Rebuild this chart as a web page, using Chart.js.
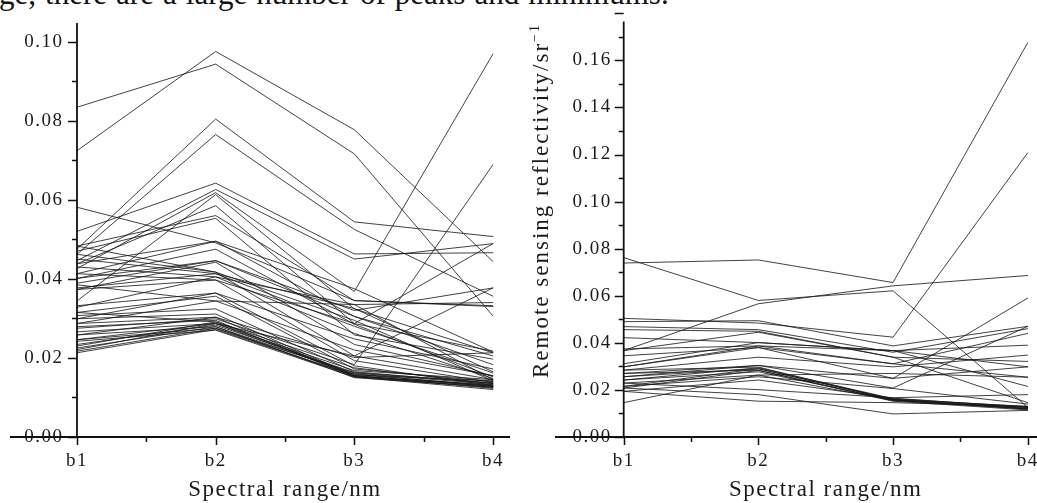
<!DOCTYPE html>
<html><head><meta charset="utf-8">
<script src="https://cdn.jsdelivr.net/npm/chart.js@4.4.0/dist/chart.umd.min.js"></script>
<style>
html,body{margin:0;padding:0;background:#fff;width:1037px;height:503px;overflow:hidden;position:relative}
#cap{position:absolute;left:-1px;top:-22px;font-family:"Liberation Serif";font-size:31px;line-height:31px;white-space:nowrap;color:#111;word-spacing:1.3px}
#c1{position:absolute;left:0;top:0}
#c2{position:absolute;left:520px;top:0}
</style></head><body>
<div id="cap">ge, there are a large number of peaks and minimums.</div>
<canvas id="c1" width="518" height="503"></canvas>
<canvas id="c2" width="540" height="503"></canvas>
<script>
// ---------- data ----------
const bands = ['b1', 'b2', 'b3', 'b4'];
const xTitle = 'Spectral range/nm';
const yTitleMain = 'Remote sensing reflectivity/sr';
const yTitleSup = '\u22121';
const leftYTicks = [0, 0.02, 0.04, 0.06, 0.08, 0.10];
const rightYTicks = [0, 0.02, 0.04, 0.06, 0.08, 0.10, 0.12, 0.14, 0.16];

// left panel: values at b1..b4
const leftUpper = [
  [0.0724, 0.0975, 0.0777, 0.0444],
  [0.0834, 0.0943, 0.0716, 0.0306],
  [0.0475, 0.0804, 0.0544, 0.0507],
  [0.0462, 0.0765, 0.0525, 0.0356]
];
const leftMiddle = [
  [0.0520, 0.0642, 0.0463, 0.0466],
  [0.0446, 0.0626, 0.0450, 0.0489],
  [0.0426, 0.0618, 0.0368, 0.0969],
  [0.0344, 0.0613, 0.0324, 0.0213],
  [0.0438, 0.0585, 0.0287, 0.0217],
  [0.0483, 0.0560, 0.0345, 0.0330],
  [0.0470, 0.0553, 0.0258, 0.0197],
  [0.0581, 0.0491, 0.0345, 0.0332],
  [0.0413, 0.0495, 0.0305, 0.0183],
  [0.0401, 0.0475, 0.0285, 0.0152],
  [0.0389, 0.0446, 0.0320, 0.0377],
  [0.0373, 0.0442, 0.0234, 0.0155],
  [0.0462, 0.0417, 0.0205, 0.0145],
  [0.0450, 0.0413, 0.0325, 0.0165],
  [0.0430, 0.0405, 0.0335, 0.0145],
  [0.0413, 0.0397, 0.0193, 0.0138],
  [0.0385, 0.0344, 0.0335, 0.0340],
  [0.0328, 0.0405, 0.0262, 0.0148],
  [0.0377, 0.0413, 0.0280, 0.0162],
  [0.0401, 0.0446, 0.0305, 0.0205],
  [0.0483, 0.0417, 0.0295, 0.0142],
  [0.0438, 0.0495, 0.0375, 0.0215],
  [0.0373, 0.0397, 0.0287, 0.0489]
];
const leftLower = [
  [0.0332, 0.0364, 0.0180, 0.0130],
  [0.0315, 0.0356, 0.0172, 0.0140],
  [0.0307, 0.0324, 0.0165, 0.0135],
  [0.0299, 0.0311, 0.0155, 0.0128],
  [0.0287, 0.0303, 0.0153, 0.0125],
  [0.0279, 0.0295, 0.0152, 0.0132],
  [0.0266, 0.0287, 0.0157, 0.0142],
  [0.0258, 0.0279, 0.0160, 0.0128],
  [0.0246, 0.0275, 0.0155, 0.0123],
  [0.0242, 0.0270, 0.0152, 0.0120],
  [0.0234, 0.0283, 0.0163, 0.0137],
  [0.0230, 0.0291, 0.0158, 0.0130],
  [0.0225, 0.0279, 0.0150, 0.0126],
  [0.0221, 0.0287, 0.0168, 0.0145],
  [0.0217, 0.0275, 0.0162, 0.0133],
  [0.0213, 0.0272, 0.0155, 0.0128],
  [0.0275, 0.0299, 0.0183, 0.0689],
  [0.0299, 0.0364, 0.0248, 0.0172],
  [0.0287, 0.0344, 0.0220, 0.0155],
  [0.0315, 0.0291, 0.0175, 0.0135],
  [0.0258, 0.0303, 0.0201, 0.0213],
  [0.0246, 0.0287, 0.0205, 0.0377]
];

// right panel: values at b1..b4
const rightUpper = [
  [0.0762, 0.0580, 0.0621, 0.0126],
  [0.0739, 0.0752, 0.0656, 0.1675],
  [0.0367, 0.0566, 0.0642, 0.0686],
  [0.0504, 0.0484, 0.0424, 0.1207]
];
const rightMiddle = [
  [0.0490, 0.0494, 0.0387, 0.0470],
  [0.0469, 0.0456, 0.0360, 0.0460],
  [0.0456, 0.0449, 0.0339, 0.0321],
  [0.0422, 0.0401, 0.0367, 0.0298],
  [0.0374, 0.0387, 0.0367, 0.0215],
  [0.0345, 0.0380, 0.0311, 0.0440],
  [0.0311, 0.0401, 0.0367, 0.0390],
  [0.0298, 0.0380, 0.0249, 0.0590],
  [0.0284, 0.0339, 0.0298, 0.0348],
  [0.0270, 0.0304, 0.0208, 0.0470],
  [0.0367, 0.0445, 0.0339, 0.0146],
  [0.0298, 0.0387, 0.0311, 0.0254],
  [0.0256, 0.0304, 0.0249, 0.0298]
];
const rightLower = [
  [0.0256, 0.0290, 0.0160, 0.0130],
  [0.0242, 0.0277, 0.0158, 0.0125],
  [0.0229, 0.0263, 0.0155, 0.0120],
  [0.0215, 0.0290, 0.0160, 0.0118],
  [0.0208, 0.0283, 0.0152, 0.0115],
  [0.0194, 0.0242, 0.0165, 0.0125],
  [0.0146, 0.0263, 0.0270, 0.0254],
  [0.0208, 0.0180, 0.0098, 0.0113],
  [0.0194, 0.0152, 0.0146, 0.0130],
  [0.0229, 0.0201, 0.0167, 0.0180],
  [0.0270, 0.0284, 0.0155, 0.0122],
  [0.0284, 0.0297, 0.0158, 0.0119],
  [0.0242, 0.0294, 0.0163, 0.0128],
  [0.0215, 0.0256, 0.0206, 0.0140]
];

// ---------- rendering ----------
const FONT = '"Liberation Serif", "DejaVu Serif", serif';
const INK = '#1a1a1a';
const LINE = 'rgba(25,25,25,0.82)';

function makeDatasets(groups) {
  const out = [];
  groups.forEach(g => g.forEach(row => out.push({
    data: row, borderColor: LINE, borderWidth: 1, pointRadius: 0, fill: false, tension: 0
  })));
  return out;
}

function spacingPlugin(ls) {
  return { id: 'spacing', beforeDraw(chart) { chart.ctx.letterSpacing = ls + 'px'; } };
}

function axesPlugin(cfg) {
  return {
    id: 'axesDraw',
    afterDraw(chart) {
      const { ctx, chartArea: a, scales: { x, y } } = chart;
      ctx.save();
      ctx.letterSpacing = '0px';
      ctx.strokeStyle = '#111';
      ctx.lineWidth = 1.8;
      ctx.beginPath();
      ctx.moveTo(a.left, a.top); ctx.lineTo(a.left, a.bottom + 0.9);
      ctx.moveTo(cfg.xFrom, a.bottom); ctx.lineTo(cfg.xTo, a.bottom);
      ctx.stroke();
      ctx.lineWidth = 1.5;
      ctx.beginPath();
      const nMinor = Math.round(y.max / 0.01 + 1e-6);
      for (let k = 0; k <= nMinor; k++) {
        const py = Math.round(y.getPixelForValue(k * 0.01)) + 0.5;
        const len = (k % 2 === 0) ? 9 : 5;
        ctx.moveTo(a.left - len, py); ctx.lineTo(a.left, py);
      }
      for (let i = 0; i < bands.length; i++) {
        const px = Math.round(x.getPixelForValue(i)) + 0.5;
        ctx.moveTo(px, a.bottom); ctx.lineTo(px, a.bottom + 8);
        if (i < bands.length - 1) {
          const mx = Math.round((x.getPixelForValue(i) + x.getPixelForValue(i + 1)) / 2) + 0.5;
          ctx.moveTo(mx, a.bottom); ctx.lineTo(mx, a.bottom + 5);
        }
      }
      ctx.stroke();
      if (cfg.yTitle) {
        ctx.fillStyle = INK;
        ctx.translate(cfg.yTitle.x, 0);
        ctx.rotate(-Math.PI / 2);
        ctx.textBaseline = 'alphabetic';
        ctx.textAlign = 'left';
        ctx.font = '23px ' + FONT;
        const mainW = ctx.measureText(yTitleMain).width;
        ctx.font = '14px ' + FONT;
        const supW = ctx.measureText(yTitleSup).width;
        const span = cfg.yTitle.bottom - cfg.yTitle.top;
        const ls = (span - mainW - supW) / (yTitleMain.length + 1);
        ctx.letterSpacing = ls + 'px';
        ctx.font = '23px ' + FONT;
        ctx.fillText(yTitleMain, -cfg.yTitle.bottom, 0);
        const used = ctx.measureText(yTitleMain).width;
        ctx.font = '14px ' + FONT;
        ctx.fillText(yTitleSup, -cfg.yTitle.bottom + used, -9);
      }
      ctx.restore();
    }
  };
}

function makeChart(canvasId, groups, yMax, yTicks, areaLeft, padRight, axisCfg) {
  return new Chart(document.getElementById(canvasId), {
    type: 'line',
    data: { labels: bands, datasets: makeDatasets(groups) },
    options: {
      responsive: false, animation: false, devicePixelRatio: 1,
      layout: { padding: { left: 0, right: padRight, top: 10, bottom: 0 } },
      plugins: { legend: { display: false }, tooltip: { enabled: false } },
      elements: { line: { borderCapStyle: 'round', borderJoinStyle: 'miter' } },
      scales: {
        x: {
          type: 'category', offset: false,
          grid: { display: false, drawTicks: false }, border: { display: false },
          ticks: { color: INK, font: { family: FONT, size: 19, lineHeight: 1 }, padding: 15, maxRotation: 0, autoSkip: false },
          title: { display: true, text: xTitle, color: INK, font: { family: FONT, size: 23, lineHeight: 1.2 }, padding: { top: 0, bottom: -1 } },
          afterFit(s) { s.height = 66; }
        },
        y: {
          type: 'linear', min: 0, max: yMax,
          grid: { display: false, drawTicks: false }, border: { display: false },
          ticks: {
            color: INK, font: { family: FONT, size: 19, lineHeight: 1 }, padding: axisCfg.labelPad,
            includeBounds: false, callback: v => Number(v).toFixed(2)
          },
          afterBuildTicks(s) { s.ticks = yTicks.map(v => ({ value: v })); },
          afterFit(s) { s.width = areaLeft; }
        }
      }
    },
    plugins: [spacingPlugin(1.5), axesPlugin(axisCfg)]
  });
}

makeChart('c1', [leftUpper, leftMiddle, leftLower], 0.1047, leftYTicks, 77, 25,
  { xFrom: 10, xTo: 510, labelPad: 13.5 });
makeChart('c2', [rightUpper, rightMiddle, rightLower], 0.1765, rightYTicks, 103.7, 32.3,
  { xFrom: 35, xTo: 540, labelPad: 12, yTitle: { x: 28, top: 25, bottom: 378 } });
</script>
</body></html>
